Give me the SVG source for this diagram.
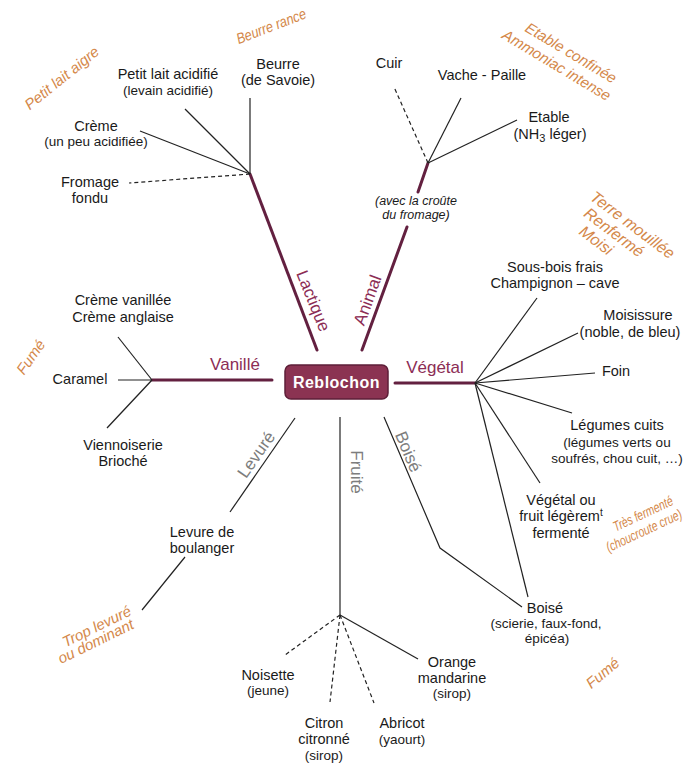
<svg xmlns="http://www.w3.org/2000/svg" width="695" height="766" viewBox="0 0 695 766">
<style>
text{font-family:"Liberation Sans",Arial,sans-serif}
.t{font-size:14.5px;fill:#1a1a1a;text-anchor:middle}
.s{font-size:13.5px;fill:#1a1a1a;text-anchor:middle}
.i{font-size:12.5px;font-style:italic;fill:#1a1a1a;text-anchor:middle}
.o{font-style:italic;fill:#d4884a;text-anchor:middle}
.os{font-style:italic;fill:#d4884a;text-anchor:start}
.b{stroke:#632040;stroke-width:3;fill:none;stroke-linecap:round}
.l{stroke:#222;stroke-width:1.2;fill:none}
.d{stroke:#222;stroke-width:1.2;stroke-dasharray:4 3;fill:none}
.cat{font-size:17px;fill:#8c2d55;text-anchor:middle}
.g{font-size:17px;fill:#7d7d7d;text-anchor:middle}
</style>
<rect width="695" height="766" fill="#ffffff"/>
<g id="connectors">
<line class="b" x1="250" y1="174" x2="317" y2="350"/>
<line class="l" x1="250" y1="174" x2="250" y2="98"/>
<line class="l" x1="250" y1="174" x2="185" y2="109"/>
<line class="l" x1="250" y1="174" x2="140" y2="131"/>
<line class="d" x1="250" y1="174" x2="129" y2="183"/>
<line class="b" x1="428" y1="163" x2="418" y2="192"/>
<line class="b" x1="407" y1="227" x2="362" y2="350"/>
<line class="d" x1="428" y1="163" x2="394" y2="87"/>
<line class="l" x1="428" y1="163" x2="461" y2="98"/>
<line class="l" x1="428" y1="163" x2="517" y2="120"/>
<line class="b" x1="152" y1="380" x2="272" y2="380"/>
<line class="l" x1="152" y1="380" x2="118" y2="337"/>
<line class="l" x1="152" y1="380" x2="118" y2="380"/>
<line class="l" x1="152" y1="380" x2="107" y2="428"/>
<line class="b" x1="395" y1="383" x2="475" y2="383"/>
<line class="l" x1="475" y1="383" x2="537" y2="298"/>
<line class="l" x1="475" y1="383" x2="578" y2="333"/>
<line class="l" x1="475" y1="383" x2="595" y2="373"/>
<line class="l" x1="475" y1="383" x2="572" y2="413"/>
<line class="l" x1="475" y1="383" x2="540" y2="483"/>
<line class="l" x1="475" y1="383" x2="528" y2="597"/>
<line class="l" x1="295" y1="418" x2="230" y2="512"/>
<line class="l" x1="185" y1="557" x2="142" y2="610"/>
<line class="l" x1="340" y1="417" x2="340" y2="615"/>
<line class="d" x1="340" y1="615" x2="285" y2="655"/>
<line class="d" x1="340" y1="615" x2="330" y2="702"/>
<line class="d" x1="340" y1="615" x2="374" y2="703"/>
<line class="l" x1="340" y1="615" x2="418" y2="659"/>
<polyline class="l" points="384,417 440,548 522,607"/>
</g>

<g id="reblochon">
<rect x="285" y="365" width="103" height="34" rx="6" fill="#8b3352" stroke="#5e1f38" stroke-width="1.5"/>
<text x="336.5" y="388" font-size="16" font-weight="bold" fill="#ffffff" text-anchor="middle" letter-spacing="0.5">Reblochon</text>
</g>

<g id="cat-lactique"><text class="cat" transform="translate(308,303) rotate(68)">Lactique</text></g>
<g id="cat-animal"><text class="cat" transform="translate(373,302) rotate(-70)">Animal</text></g>
<g id="cat-vanille"><text class="cat" x="235" y="370">Vanillé</text></g>
<g id="cat-vegetal"><text class="cat" x="435" y="373">Végétal</text></g>
<g id="cat-levure"><text class="g" transform="translate(261,458) rotate(-55)">Levuré</text></g>
<g id="cat-fruite"><text class="g" transform="translate(351,472) rotate(90)">Fruité</text></g>
<g id="cat-boise"><text class="g" transform="translate(403,454) rotate(67)">Boisé</text></g>

<g id="beurre"><text class="t" x="278" y="69">Beurre</text><text class="t" x="278" y="85">(de Savoie)</text></g>
<g id="petit-lait"><text class="t" x="168" y="79">Petit lait acidifié</text><text class="s" x="168" y="95">(levain acidifié)</text></g>
<g id="creme"><text class="t" x="96" y="131">Crème</text><text class="s" x="96" y="146">(un peu acidifiée)</text></g>
<g id="fromage-fondu"><text class="t" x="90" y="187">Fromage</text><text class="t" x="90" y="203">fondu</text></g>

<g id="cuir"><text class="t" x="389" y="68">Cuir</text></g>
<g id="vache"><text class="t" x="482" y="80">Vache - Paille</text></g>
<g id="etable"><text class="t" x="549" y="122">Etable</text><text class="t" x="550" y="139">(NH<tspan dy="3" font-size="11">3</tspan><tspan dy="-3"> léger)</tspan></text></g>
<g id="croute"><text class="i" x="416" y="205">(avec la croûte</text><text class="i" x="416" y="219">du fromage)</text></g>

<g id="creme-vanillee"><text class="t" x="123" y="305">Crème vanillée</text><text class="t" x="123" y="322">Crème anglaise</text></g>
<g id="caramel"><text class="t" x="80" y="384">Caramel</text></g>
<g id="viennoiserie"><text class="t" x="123" y="450">Viennoiserie</text><text class="t" x="123" y="466">Brioché</text></g>

<g id="sous-bois"><text class="t" x="555" y="272">Sous-bois frais</text><text class="t" x="555" y="288">Champignon – cave</text></g>
<g id="moisissure"><text class="t" x="638" y="320">Moisissure</text><text class="t" x="630" y="337">(noble, de bleu)</text></g>
<g id="foin"><text class="t" x="616" y="376">Foin</text></g>
<g id="legumes"><text class="t" x="617" y="430">Légumes cuits</text><text class="s" x="617" y="447">(légumes verts ou</text><text class="s" x="617" y="463">soufrés, chou cuit, …)</text></g>
<g id="vegetal-fruit"><text class="t" x="561" y="505">Végétal ou</text><text class="t" x="561" y="521">fruit légèrem<tspan font-size="10" dy="-5">t</tspan></text><text class="t" x="561" y="538">fermenté</text></g>
<g id="boise"><text class="t" x="545" y="613">Boisé</text><text class="s" x="546" y="628">(scierie, faux-fond,</text><text class="s" x="547" y="643">épicéa)</text></g>

<g id="levure"><text class="t" x="202" y="537">Levure de</text><text class="t" x="202" y="553">boulanger</text></g>

<g id="noisette"><text class="t" x="268" y="680">Noisette</text><text class="s" x="268" y="695">(jeune)</text></g>
<g id="citron"><text class="t" x="324" y="728">Citron</text><text class="t" x="324" y="744">citronné</text><text class="s" x="324" y="760">(sirop)</text></g>
<g id="abricot"><text class="t" x="402" y="728">Abricot</text><text class="s" x="402" y="744">(yaourt)</text></g>
<g id="orange"><text class="t" x="452" y="667">Orange</text><text class="t" x="452" y="683">mandarine</text><text class="s" x="452" y="698">(sirop)</text></g>

<g id="defauts">
<text class="o" font-size="15" transform="translate(273,31) rotate(-21) scale(0.85,1)">Beurre rance</text>
<text class="o" font-size="15" transform="translate(65,82) rotate(-39)">Petit lait aigre</text>
<g transform="translate(571,53) rotate(31)">
<text class="o" font-size="15" x="0" y="5">Etable confinée</text>
<text class="o" font-size="15" x="-6" y="23">Ammoniac intense</text>
</g>
<g transform="translate(589,199) rotate(37)">
<text class="os" font-size="16" x="0" y="0">Terre mouillée</text>
<text class="os" font-size="16" x="5" y="17">Renfermé</text>
<text class="os" font-size="16" x="12" y="34">Moisi</text>
</g>
<text class="o" font-size="15" transform="translate(35,360) rotate(-55)">Fumé</text>
<text class="o" font-size="14" transform="translate(645,518) rotate(-25) scale(0.75,1)">Très fermenté</text>
<text class="o" font-size="14" transform="translate(646,535) rotate(-25) scale(0.75,1)">(choucroute crue)</text>
<text class="o" font-size="15" transform="translate(606,677) rotate(-40)">Fumé</text>
<text class="o" font-size="15" transform="translate(99,631) rotate(-26)">Trop levuré</text>
<text class="o" font-size="15" transform="translate(98,646) rotate(-26)">ou dominant</text>
</g>
</svg>
